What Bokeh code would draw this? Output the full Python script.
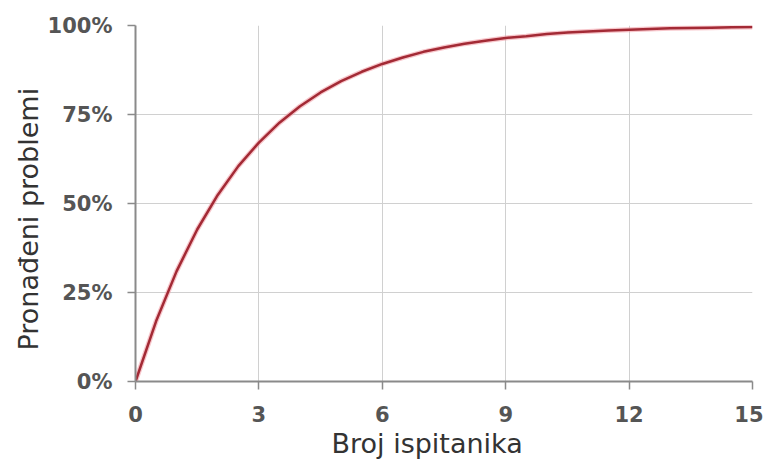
from bokeh.plotting import figure
from bokeh.models import FixedTicker, NumeralTickFormatter, Range1d, Title
from bokeh.embed import file_html
from bokeh.resources import INLINE

# Values (share of problems found vs. number of participants)
participants = [0, 0.5, 1, 1.5, 2, 2.5, 3, 3.5, 4, 4.5, 5, 5.5, 6, 6.5, 7, 7.5,
                8, 8.5, 9, 9.5, 10, 10.5, 11, 11.5, 12, 12.5, 13, 13.5, 14, 14.5, 15]
found_share = [0.0, 0.169, 0.31, 0.427, 0.524, 0.605, 0.671, 0.727, 0.773, 0.812,
               0.844, 0.870, 0.892, 0.910, 0.926, 0.938, 0.949, 0.957, 0.965, 0.970,
               0.976, 0.980, 0.983, 0.986, 0.988, 0.990, 0.992, 0.993, 0.994, 0.995, 0.996]
x_ticks = [0, 3, 6, 9, 12, 15]
y_ticks = [0, 0.25, 0.5, 0.75, 1.0]
x_title = "Broj ispitanika"
y_title = "Pronađeni problemi"

p = figure(width=763, height=462, output_backend="svg", toolbar_location=None,
           x_range=Range1d(0, 15), y_range=Range1d(0, 1),
           min_border_left=135, min_border_right=11, min_border_top=25, min_border_bottom=81)
p.outline_line_color = None
p.background_fill_color = "white"
p.border_fill_color = "white"

# halo + main line
p.line(participants, found_share, line_color="#f2a0a8", line_width=5, line_alpha=0.6)
p.line(participants, found_share, line_color="#a32a35", line_width=2.5)

p.xaxis.ticker = FixedTicker(ticks=x_ticks)
p.yaxis.ticker = FixedTicker(ticks=y_ticks)
p.yaxis.formatter = NumeralTickFormatter(format="0%")

for ax in (p.xaxis[0], p.yaxis[0]):
    ax.axis_line_color = "#8a8a8a"
    ax.axis_line_width = 2
    ax.major_tick_line_color = "#8a8a8a"
    ax.major_tick_line_width = 1.5
    ax.major_tick_in = 0
    ax.major_tick_out = 8
    ax.minor_tick_line_color = None
    ax.major_label_text_font = "DejaVu Sans"
    ax.major_label_text_font_style = "bold"
    ax.major_label_text_font_size = "21px"
    ax.major_label_text_color = "#555555"

p.xaxis.major_label_standoff = 16
p.yaxis.major_label_standoff = 15

xt = Title(text=x_title, align="left", offset=196, standoff=2,
           text_font="DejaVu Sans", text_font_style="normal",
           text_font_size="27px", text_color="#333333")
yt = Title(text=y_title, align="left", offset=31, standoff=2,
           text_font="DejaVu Sans", text_font_style="normal",
           text_font_size="27px", text_color="#333333")
p.add_layout(xt, "below")
p.add_layout(yt, "left")

p.xgrid.grid_line_color = "#d0d0d0"
p.ygrid.grid_line_color = "#d0d0d0"
p.xgrid.grid_line_width = 1
p.ygrid.grid_line_width = 1

open("out.html", "w").write(file_html(p, INLINE))
